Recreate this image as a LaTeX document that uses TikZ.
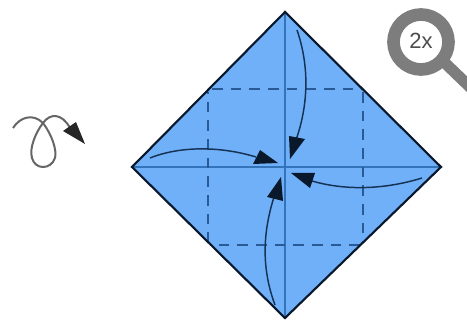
\documentclass[tikz,border=0pt]{standalone}
\usepackage{fontspec}
\setmainfont{Liberation Sans}
\definecolor{paper}{RGB}{112,176,248}
\definecolor{ink}{RGB}{10,24,44}
\definecolor{crease}{RGB}{50,115,185}
\definecolor{dashc}{RGB}{40,90,150}
\definecolor{lens}{RGB}{125,125,125}
\tikzset{
  x=0.75pt,y=-0.75pt,
  foldline/.style={crease,line width=0.9pt},
  valley/.style={dashc,line width=1.7pt,dash pattern=on 8pt off 6pt},
  foldarrow/.style={ink!70!crease,line width=1.1pt},
  tiphead/.style={ink,fill=ink,line width=0.3pt,line join=round},
  loopline/.style={black!60,line width=1.5pt}
}
\begin{document}
\begin{tikzpicture}
\useasboundingbox (0,0) rectangle (467,320);
\fill[white] (0,0) rectangle (467,320);
% paper
\fill[paper] (285,12) -- (441,167) -- (285,318) -- (132,167) -- cycle;
% creases
\draw[foldline] (132,167) -- (441,167);
\draw[foldline] (285,12) -- (285,318);
% valley folds
\draw[valley] (212,89) -- (362,89);
\draw[valley] (363,92) -- (363,243);
\draw[valley] (360,245) -- (210,245);
\draw[valley] (208,243) -- (208,92);
% outline
\draw[ink,line width=1.6pt,line join=miter] (285,12) -- (441,167) -- (285,318) -- (132,167) -- cycle;
% fold arrows
\draw[foldarrow] (297,30) .. controls (308,62) and (310,100) .. (296,140);
\fill[tiphead] (290,159) -- (289,136) -- (305,139) -- cycle;
\draw[foldarrow] (150,158) .. controls (180,146) and (220,146) .. (256,157);
\fill[tiphead] (278,163) -- (253,164) -- (260,150) -- cycle;
\draw[foldarrow] (422,178) .. controls (390,188) and (350,192) .. (312,181);
\fill[tiphead] (291,173) -- (315,173) -- (310,188) -- cycle;
\draw[foldarrow] (275,305) .. controls (262,270) and (262,235) .. (274,197);
\fill[tiphead] (281,177) -- (267,197) -- (283,201) -- cycle;
% turn-over symbol
\draw[loopline] (13,128) .. controls (20,117) and (33,113) .. (43,123)
  .. controls (52,135) and (57,150) .. (55,158)
  .. controls (51,170) and (35,170) .. (32,158)
  .. controls (29,148) and (36,132) .. (43,123)
  .. controls (50,113) and (62,113) .. (70,128);
\fill[black!85] (85,144) -- (63,131) -- (76,122) -- cycle;
% magnifier
\draw[lens,line width=9.5pt] (421,42) circle[radius=27.5];
\draw[lens,line width=8.5pt] (445,63) -- (472,89);
\node[inner sep=0pt,text=black!70,font=\fontsize{16.5pt}{17pt}\selectfont] (zoomlabel) at (421,41) {2x};
\end{tikzpicture}
\end{document}
